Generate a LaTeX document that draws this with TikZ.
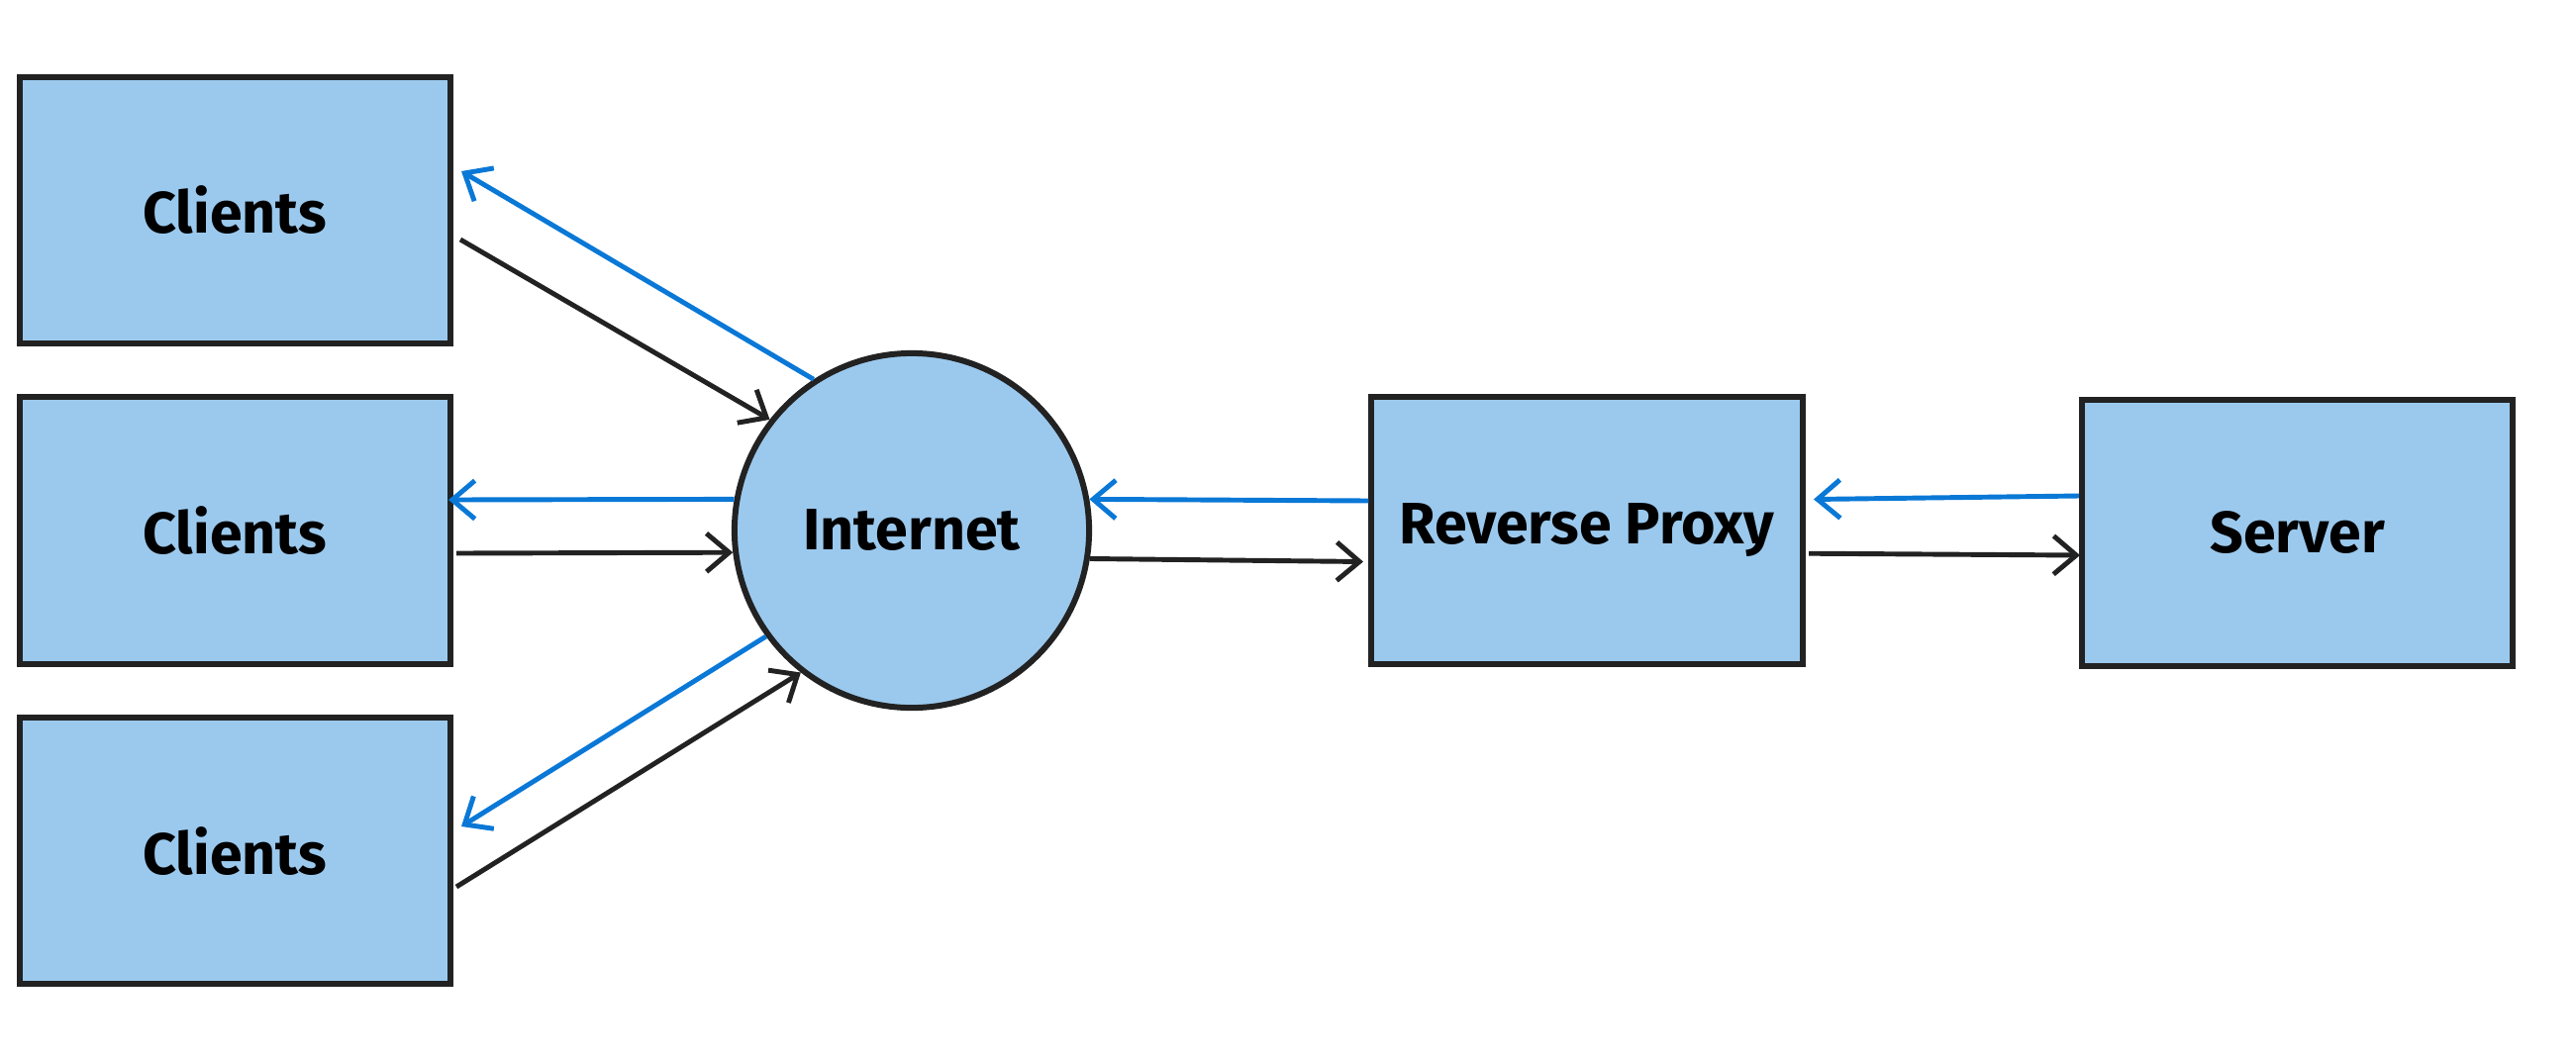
\documentclass[tikz,border=0pt]{standalone}
\usepackage{fontspec}
\setmainfont{Fira Sans}
\usetikzlibrary{arrows.meta}
\definecolor{boxfill}{HTML}{9BC9EE}
\definecolor{boxline}{HTML}{222222}
\definecolor{respblue}{HTML}{0A78D6}
\begin{document}
\begin{tikzpicture}[x=0.01cm,y=-0.01cm,
  box/.style={draw=boxline, line width=1.7pt, fill=boxfill, minimum width=4.35cm, minimum height=2.69cm, inner sep=0pt, font=\bfseries\fontsize{16.8}{20}\selectfont},
  net/.style={circle, draw=boxline, line width=1.7pt, fill=boxfill, minimum size=3.58cm, inner sep=0pt, font=\bfseries\fontsize{16.8}{20}\selectfont},
  tip/.style={-{Straight Barb[length=6.5pt,width=11pt,line width=1.4pt]}},
  req/.style={draw=boxline, line width=1.4pt, tip},
  resp/.style={draw=respblue, line width=1.4pt, tip}]
\useasboundingbox (0,0) rectangle (2602,1072);
% nodes
\node[box] (c1) at (237.3,212.4) {Clients};
\node[box] (c2) at (237.3,536) {Clients};
\node[box] (c3) at (237.3,859.6) {Clients};
\node[net] (inet) at (921,536) {Internet};
\node[box] (rp) at (1603,536) {Reverse Proxy};
\node[box] (srv) at (2320.5,538.3) {Server};
% free ends near the client boxes and proxy/server
\coordinate (c1r) at (466,173);
\coordinate (c1s) at (465,242);
\coordinate (c2r) at (453,505);
\coordinate (c2s) at (461,559);
\coordinate (c3r) at (466,835);
\coordinate (c3s) at (461,896);
\coordinate (rpr) at (1377,567.5);
\coordinate (rps) at (1832,504.5);
\coordinate (rpq) at (1827,559.2);
\coordinate (srvq) at (2101,561);
% connectors
\draw[resp] (inet.123) -- (c1r);
\draw[req] (c1s) -- (inet.142);
\draw[resp] (inet.170.5) -- (c2r);
\draw[req] (c2s) -- (inet.187.4);
\draw[resp] (inet.216.7) -- (c3r);
\draw[req] (c3s) -- (inet.232);
\draw[resp] (rp.west |- 0,506) -- (inet.10.3);
\draw[req] (inet.-9.5) -- (rpr);
\draw[resp] (srv.west |- 0,501) -- (rps);
\draw[req] (rpq) -- (srvq);
\end{tikzpicture}
\end{document}
